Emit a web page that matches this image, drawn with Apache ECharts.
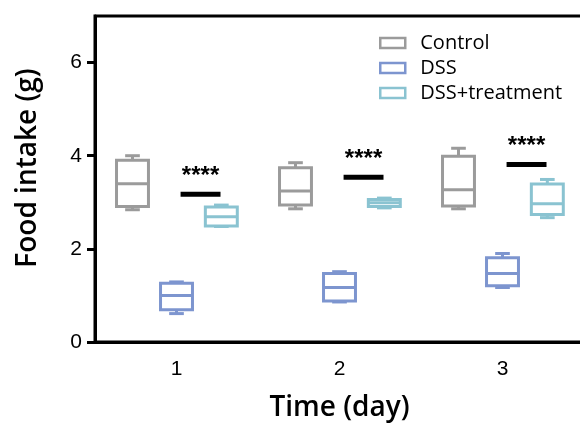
<!DOCTYPE html>
<html>
<head>
<meta charset="utf-8">
<script src="https://cdn.jsdelivr.net/npm/echarts@6/dist/echarts.min.js"></script>
<style>
  html, body { margin: 0; padding: 0; background: #ffffff; }
  #main { width: 580px; height: 425px; }
</style>
</head>
<body>
<div id="main"></div>
<script>
var days = ['1', '2', '3'];
var groupNames = ['Control', 'DSS', 'DSS+treatment'];
// each row: [min, Q1, median, Q3, max] for day 1..3
var control = [[2.84, 2.91, 3.40, 3.90, 4.00], [2.86, 2.94, 3.24, 3.74, 3.85], [2.86, 2.92, 3.27, 3.99, 4.16]];
var dss = [[0.61, 0.69, 1.00, 1.26, 1.29], [0.86, 0.88, 1.17, 1.47, 1.51], [1.17, 1.21, 1.47, 1.81, 1.90]];
var treatment = [[2.48, 2.49, 2.69, 2.90, 2.94], [2.88, 2.91, 2.99, 3.06, 3.09], [2.67, 2.74, 2.97, 3.39, 3.49]];
var sigY = [3.17, 3.54, 3.81];
var sigLabels = ['****', '****', '****'];
var yTicks = [0, 2, 4, 6];

var colors = ['#9b9b9b', '#7d95cf', '#8ac3d1'];
var offsets = [-0.27, 0, 0.275];

function boxRender(color, off) {
  return function (params, api) {
    var d = api.value(0);
    var band = api.size([1, 0])[0];
    var cx = api.coord([d, 0])[0] + off * band;
    var half = band * 0.098;
    var cap = band * 0.045;
    var yMin = api.coord([d, api.value(1)])[1];
    var yQ1 = api.coord([d, api.value(2)])[1];
    var yMed = api.coord([d, api.value(3)])[1];
    var yQ3 = api.coord([d, api.value(4)])[1];
    var yMax = api.coord([d, api.value(5)])[1];
    var st = { stroke: color, lineWidth: 3, fill: null };
    return {
      type: 'group',
      children: [
        { type: 'line', shape: { x1: cx, y1: yQ3, x2: cx, y2: yMax }, style: st },
        { type: 'line', shape: { x1: cx, y1: yQ1, x2: cx, y2: yMin }, style: st },
        { type: 'line', shape: { x1: cx - cap, y1: yMax, x2: cx + cap, y2: yMax }, style: st },
        { type: 'line', shape: { x1: cx - cap, y1: yMin, x2: cx + cap, y2: yMin }, style: st },
        { type: 'rect', shape: { x: cx - half, y: yQ3, width: half * 2, height: yQ1 - yQ3 }, style: { stroke: color, lineWidth: 3, fill: '#fff' } },
        { type: 'line', shape: { x1: cx - half, y1: yMed, x2: cx + half, y2: yMed }, style: st }
      ]
    };
  };
}

function sigRender(params, api) {
  var d = api.value(0);
  var band = api.size([1, 0])[0];
  var p = api.coord([d, api.value(1)]);
  var x1 = p[0] + 0.025 * band;
  var x2 = p[0] + 0.27 * band;
  return {
    type: 'group',
    children: [
      { type: 'line', shape: { x1: x1, y1: p[1], x2: x2, y2: p[1] }, style: { stroke: '#000', lineWidth: 5 } },
      { type: 'text', x: (x1 + x2) / 2, y: p[1] - 18, style: { text: sigLabels[params.dataIndex], fill: '#000', font: 'bold 24px "Liberation Sans"', align: 'center', verticalAlign: 'middle' } }
    ]
  };
}

function rows(arr) {
  return arr.map(function (r, i) { return [i].concat(r); });
}

var chart = echarts.init(document.getElementById('main'), null, { renderer: 'canvas' });
var groups = [control, dss, treatment];
var series = groups.map(function (g, i) {
  return {
    name: groupNames[i],
    type: 'custom',
    renderItem: boxRender(colors[i], offsets[i]),
    encode: { x: 0, y: [1, 2, 3, 4, 5] },
    itemStyle: { color: colors[i] },
    data: rows(g)
  };
});
series.push({
  type: 'custom',
  renderItem: sigRender,
  encode: { x: 0, y: 1 },
  data: sigY.map(function (v, i) { return [i, v]; })
});

var option = {
  backgroundColor: '#ffffff',
  animation: false,
  grid: {
    left: 95, top: 16, width: 489, height: 326,
    outerBoundsMode: 'none',
    show: true, borderColor: '#000', borderWidth: 3, backgroundColor: 'transparent'
  },
  legend: {
    orient: 'vertical',
    left: 374, top: 27,
    itemWidth: 25, itemHeight: 10, itemGap: 3,
    icon: 'rect',
    data: groupNames.map(function (n, i) {
      return { name: n, itemStyle: { color: '#fff', borderColor: colors[i], borderWidth: 2.5 } };
    }),
    textStyle: { fontFamily: 'Open Sans', fontSize: 20, color: '#000', padding: [0, 0, 0, 10], lineHeight: 22 }
  },
  xAxis: {
    type: 'category',
    data: days,
    name: 'Time (day)',
    nameLocation: 'middle',
    nameGap: 52,
    nameTextStyle: { fontFamily: 'Open Sans', fontWeight: 600, fontSize: 28, color: '#000' },
    axisLine: { lineStyle: { color: '#000', width: 3 } },
    axisTick: { alignWithLabel: true, length: 8, lineStyle: { color: '#000', width: 3 } },
    axisLabel: { fontFamily: 'Liberation Sans', fontSize: 21, color: '#000', margin: 17 },
    splitLine: { show: false }
  },
  yAxis: {
    type: 'value',
    min: 0, max: 7, interval: 2,
    name: 'Food intake (g)',
    nameLocation: 'middle',
    nameGap: 53,
    nameTextStyle: { fontFamily: 'Open Sans', fontWeight: 600, fontSize: 28, color: '#000', padding: [0, 0, 0, 22] },
    axisLine: { show: true, lineStyle: { color: '#000', width: 3 } },
    axisTick: { show: true, length: 8, customValues: yTicks, lineStyle: { color: '#000', width: 3 } },
    axisLabel: { fontFamily: 'Liberation Sans', fontSize: 21, color: '#000', margin: 13, customValues: yTicks },
    splitLine: { show: false }
  },
  series: series
};
chart.setOption(option);
</script>
</body>
</html>
